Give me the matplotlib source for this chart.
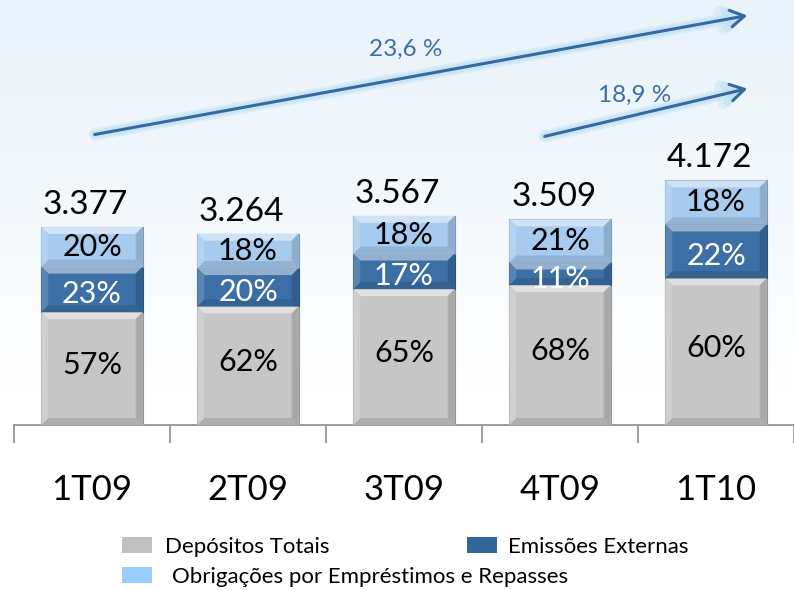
import matplotlib
matplotlib.use("Agg")
import matplotlib.pyplot as plt
import numpy as np
from matplotlib.patches import Rectangle, Polygon
from matplotlib.colors import LinearSegmentedColormap

plt.rcParams['font.family'] = ['Lato', 'DejaVu Sans']

categories = ['1T09', '2T09', '3T09', '4T09', '1T10']
totals = [3377, 3264, 3567, 3509, 4172]
total_labels = ['3.377', '3.264', '3.567', '3.509', '4.172']
depositos = [57, 62, 65, 68, 60]
emissoes = [23, 20, 17, 11, 22]
obrigacoes = [20, 18, 18, 21, 18]
series_names = ['Depósitos Totais', 'Emissões Externas', 'Obrigações por Empréstimos e Repasses']
series_colors = ['#c6c6c6', '#3b6fa6', '#a7cbef']
legend_colors = ['#c0c0c0', '#336699', '#99ccff']
label_colors = ['black', 'white', 'black']
growth_labels = ['23,6 %', '18,9 %']

W, H = 794, 590
fig = plt.figure(figsize=(W / 100, H / 100), dpi=100)

# faint background gradient at top
bg = fig.add_axes([0, 0, 1, 1], zorder=-10)
grad = np.linspace(0, 1, 256).reshape(-1, 1)
cm = LinearSegmentedColormap.from_list('bg', ['#ffffff', '#ffffff', '#f3f8fc', '#e9f3fa'])
bg.imshow(grad, aspect='auto', cmap=cm, extent=[0, 1, 0, 1], origin='lower')
bg.set_axis_off()

# main axes: baseline at y=425px from top, x from 14 to 794
ax_left, ax_bottom = 14 / W, (H - 425) / H
ax = fig.add_axes([ax_left, ax_bottom, 1 - ax_left, 1 - ax_bottom])
ax.patch.set_alpha(0)
ax.set_xlim(-0.5, 4.5)
ax.set_ylim(0, 7250)
for s in ['top', 'right', 'left']:
    ax.spines[s].set_visible(False)
ax.spines['bottom'].set_color('#8c8c8c')
ax.spines['bottom'].set_linewidth(1.2)
ax.set_yticks([])
ax.set_xticks(np.arange(-0.5, 4.6, 1.0))
ax.set_xticklabels([])
ax.tick_params(axis='x', length=13, color='#8c8c8c', width=1.2, direction='out')

x = np.arange(len(categories))
bw = 0.65
px_x = 5.0 / (W - 14)       # data units per pixel in x
px_y = 7250 / 425.0          # data units per pixel in y


def lighten(c, f):
    c = np.array(matplotlib.colors.to_rgb(c))
    return tuple(c + (1 - c) * f)


def darken(c, f):
    c = np.array(matplotlib.colors.to_rgb(c))
    return tuple(c * (1 - f))


def bevel_bar(xc, y0, h, color):
    l, r = xc - bw / 2, xc + bw / 2
    t = y0 + h
    b = 7
    bx, by = b * px_x, b * px_y
    by = min(by, h / 3)
    ax.add_patch(Rectangle((l, y0), bw, h, facecolor=color, edgecolor=darken(color, 0.25), lw=0.8, zorder=3))
    ax.add_patch(Polygon([(l, t), (r, t), (r - bx, t - by), (l + bx, t - by)], closed=True,
                         facecolor=lighten(color, 0.45), edgecolor='none', zorder=4))
    ax.add_patch(Polygon([(l, y0), (r, y0), (r - bx, y0 + by), (l + bx, y0 + by)], closed=True,
                         facecolor=darken(color, 0.12), edgecolor='none', zorder=4))
    ax.add_patch(Polygon([(l, y0), (l, t), (l + bx, t - by), (l + bx, y0 + by)], closed=True,
                         facecolor=lighten(color, 0.15), edgecolor='none', zorder=4))
    ax.add_patch(Polygon([(r, y0), (r, t), (r - bx, t - by), (r - bx, y0 + by)], closed=True,
                         facecolor=darken(color, 0.15), edgecolor='none', zorder=4))


segments = [depositos, emissoes, obrigacoes]
label_yoff_px = [4, -5, 0]
for i, xc in enumerate(x):
    bottom = 0.0
    for k, seg in enumerate(segments):
        h = totals[i] * seg[i] / 100.0
        bevel_bar(xc, bottom, h, series_colors[k])
        ax.text(xc, bottom + h / 2 + label_yoff_px[k] * px_y, f'{seg[i]}%', ha='center', va='center',
                fontsize=22, color=label_colors[k], zorder=6)
        bottom += h
    ax.text(xc - 0.04, totals[i] + 7 * px_y, total_labels[i], ha='center', va='bottom',
            fontsize=24, color='black', zorder=6)

# category labels
for xc, c in zip(x, categories):
    ax.text(xc, -65 * px_y, c, ha='center', va='center', fontsize=25, color='black')

# growth arrows (figure pixel coords)
def fig_pt(px, py):
    return (px / W, 1 - py / H)

arrow_color = '#3669a0'
for (p0, p1) in [((92, 135), (750, 15)), ((542, 137), (750, 88))]:
    for lw, col, al in [(9, '#cfe8f7', 0.6), (6, '#bfe0f5', 0.6)]:
        fig.add_artist(matplotlib.patches.FancyArrowPatch(
            fig_pt(*p0), fig_pt(*p1), transform=fig.transFigure,
            arrowstyle='->,head_length=10,head_width=6', color=col, lw=lw, alpha=al,
            mutation_scale=1, zorder=5))
    fig.add_artist(matplotlib.patches.FancyArrowPatch(
        fig_pt(*p0), fig_pt(*p1), transform=fig.transFigure,
        arrowstyle='->,head_length=10,head_width=6', color=arrow_color, lw=2.2,
        mutation_scale=1, zorder=6))

fig.text(*fig_pt(406, 49), growth_labels[0], ha='center', va='center', fontsize=17.5, color='#3c6ea5')
fig.text(*fig_pt(635, 95), growth_labels[1], ha='center', va='center', fontsize=17.5, color='#3c6ea5')

# legend (manual)
leg = [(122, 537, 0, 165), (467, 537, 1, 508), (122, 567, 2, 172)]
for (px, py, k, tx) in leg:
    fig.add_artist(Rectangle(fig_pt(px, py + 16), 30 / W, 16 / H, transform=fig.transFigure,
                             facecolor=legend_colors[k], edgecolor='none'))
    fig.text(*fig_pt(tx, py + 10), series_names[k], ha='left', va='center', fontsize=16, color='black')

fig.savefig('out.png', dpi=100)
